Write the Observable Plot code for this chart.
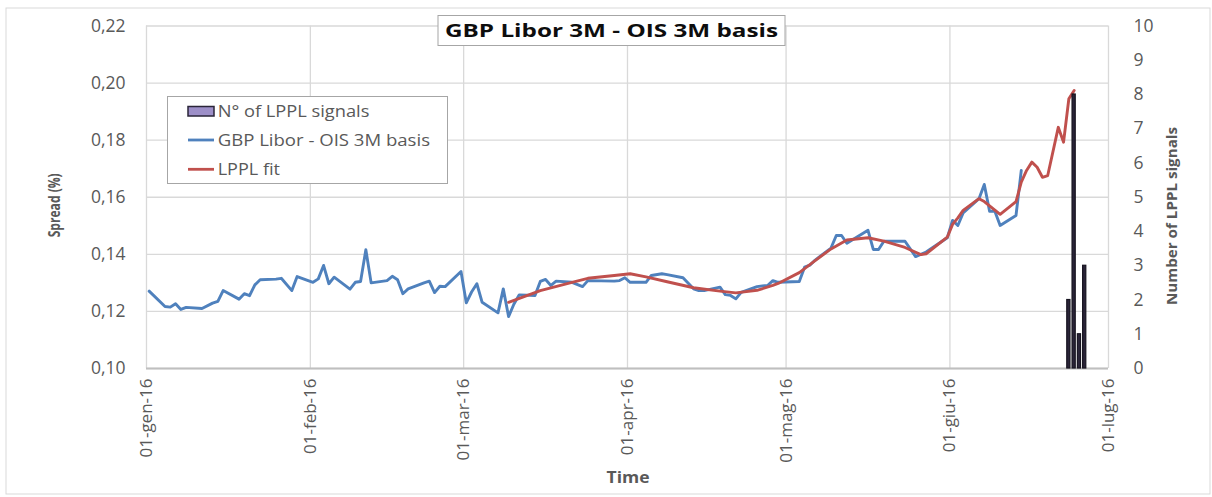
<!DOCTYPE html>
<html>
<head>
<meta charset="utf-8">
<script src="https://cdn.jsdelivr.net/npm/d3@7"></script>
<script src="https://cdn.jsdelivr.net/npm/@observablehq/plot@0.6"></script>
<style>
  html, body { margin: 0; padding: 0; background: #fff; }
  svg { display: block; }
</style>
</head>
<body>
<div id="chart"></div>
<script>
// ---------- DATA ----------
const basisDates = [
  "2016-01-01","2016-01-04","2016-01-05","2016-01-06","2016-01-07","2016-01-08","2016-01-11","2016-01-13","2016-01-14","2016-01-15",
  "2016-01-18","2016-01-19","2016-01-20","2016-01-21","2016-01-22","2016-01-25","2016-01-26","2016-01-28","2016-01-29",
  "2016-02-01","2016-02-02","2016-02-03","2016-02-04","2016-02-05","2016-02-08","2016-02-09","2016-02-10","2016-02-11","2016-02-12",
  "2016-02-15","2016-02-16","2016-02-17","2016-02-18","2016-02-19","2016-02-22","2016-02-23","2016-02-24","2016-02-25","2016-02-26","2016-02-29",
  "2016-03-01","2016-03-02","2016-03-03","2016-03-04","2016-03-07","2016-03-08","2016-03-09","2016-03-10","2016-03-11","2016-03-14",
  "2016-03-15","2016-03-16","2016-03-17","2016-03-18","2016-03-21","2016-03-23","2016-03-24","2016-03-29","2016-03-30","2016-03-31",
  "2016-04-01","2016-04-04","2016-04-05","2016-04-07","2016-04-08","2016-04-11","2016-04-13","2016-04-14","2016-04-15","2016-04-18",
  "2016-04-19","2016-04-20","2016-04-21","2016-04-22","2016-04-25","2016-04-27","2016-04-28","2016-04-29",
  "2016-05-03","2016-05-04","2016-05-05","2016-05-06","2016-05-09","2016-05-10","2016-05-11","2016-05-12","2016-05-16","2016-05-17",
  "2016-05-18","2016-05-19","2016-05-23","2016-05-25","2016-05-27","2016-05-31",
  "2016-06-01","2016-06-02","2016-06-03","2016-06-06","2016-06-07","2016-06-08","2016-06-09","2016-06-10","2016-06-13","2016-06-14"
];
const basisValues = [
  0.1271,0.1217,0.1215,0.1227,0.1207,0.1214,0.1210,0.1229,0.1235,0.1273,
  0.1243,0.1262,0.1255,0.1293,0.1311,0.1313,0.1316,0.1273,0.1322,
  0.1302,0.1314,0.1361,0.1297,0.1320,0.1278,0.1302,0.1305,0.1416,0.1300,
  0.1308,0.1323,0.1311,0.1262,0.1279,0.1300,0.1306,0.1266,0.1288,0.1287,0.1340,
  0.1230,0.1268,0.1297,0.1232,0.1195,0.1279,0.1182,0.1225,0.1258,0.1256,
  0.1305,0.1312,0.1291,0.1306,0.1302,0.1287,0.1308,0.1306,0.1308,0.1318,
  0.1302,0.1302,0.1326,0.1332,0.1329,0.1318,0.1279,0.1273,0.1273,0.1285,
  0.1259,0.1256,0.1244,0.1267,0.1287,0.1291,0.1308,0.1302,
  0.1305,0.1355,0.1362,0.1380,0.1422,0.1466,0.1466,0.1439,0.1484,0.1417,
  0.1417,0.1446,0.1446,0.1392,0.1408,0.1458,
  0.1519,0.1501,0.1545,0.1595,0.1645,0.1551,0.1551,0.1501,0.1536,0.1694
];

const fitDates = [
  "2016-03-09","2016-03-15","2016-03-21","2016-03-24","2016-03-29","2016-04-01","2016-04-04","2016-04-08","2016-04-13","2016-04-18",
  "2016-04-21","2016-04-25","2016-04-28","2016-04-29","2016-05-03","2016-05-06","2016-05-09","2016-05-12","2016-05-16","2016-05-19",
  "2016-05-23","2016-05-26","2016-05-27","2016-05-31","2016-06-01","2016-06-02","2016-06-03","2016-06-06","2016-06-07","2016-06-10",
  "2016-06-13","2016-06-14","2016-06-15","2016-06-16","2016-06-17","2016-06-18","2016-06-19","2016-06-21","2016-06-22","2016-06-23","2016-06-24"
];
const fitValues = [
  0.1232,0.1273,0.1302,0.1316,0.1326,0.1332,0.1321,0.1304,0.1283,0.1271,
  0.1265,0.1274,0.1291,0.1298,0.1336,0.1378,0.1419,0.1450,0.1458,0.1446,
  0.1424,0.1399,0.1402,0.1460,0.1505,0.1528,0.1554,0.1595,0.1585,0.1540,
  0.1585,0.1653,0.1694,0.1723,0.1705,0.1670,0.1676,0.1845,0.1793,0.1945,0.1974
];

const signalDates = ["2016-06-23","2016-06-24","2016-06-25","2016-06-26"];
const signalCounts = [2, 8, 1, 3];

const monthTickDates = ["2016-01-01","2016-02-01","2016-03-01","2016-04-01","2016-05-01","2016-06-01","2016-07-01"];
const monthTickLabels = ["01-gen-16","01-feb-16","01-mar-16","01-apr-16","01-mag-16","01-giu-16","01-lug-16"];
const spreadTicks = [0.10, 0.12, 0.14, 0.16, 0.18, 0.20, 0.22];
const spreadTickLabels = ["0,10","0,12","0,14","0,16","0,18","0,20","0,22"];
const signalTicks = [0,1,2,3,4,5,6,7,8,9,10];

const titleText = "GBP Libor 3M - OIS 3M basis";
const legendLabels = ["N° of LPPL signals", "GBP Libor - OIS 3M basis", "LPPL fit"];

// ---------- BUILD ----------
const DAY = 864e5;
const parse = s => new Date(s + "T00:00:00Z");
const basis = basisDates.map((d, i) => ({date: parse(d), value: basisValues[i]}));
const fit = fitDates.map((d, i) => ({date: parse(d), value: fitValues[i]}));
const signals = signalDates.map((d, i) => ({date: parse(d), n: signalCounts[i]}));
const months = monthTickDates.map(parse);

// secondary axis (0..10) mapped onto the primary spread domain
const yMin = 0.10, yMax = 0.22, sigMax = 10;
const sig2y = n => yMin + n * (yMax - yMin) / sigMax;
const signalTickPos = signalTicks.map(sig2y);

const noon = d => new Date(+d.date + DAY / 2);

const COLOR_TEXT = "#595959";
const GRID = "#d9d9d9";

const chart = Plot.plot({
  width: 1212,
  height: 497,
  marginLeft: 146,
  marginRight: 104,
  marginTop: 25.5,
  marginBottom: 129,
  style: {fontFamily: "'Open Sans', sans-serif", color: COLOR_TEXT, background: "#fff", overflow: "visible"},
  x: {type: "utc", domain: [months[0], months[months.length - 1]]},
  y: {domain: [yMin, yMax]},
  marks: [
    Plot.gridY(spreadTicks, {stroke: GRID, strokeOpacity: 1, strokeWidth: 1.3}),
    Plot.gridX(months, {stroke: GRID, strokeOpacity: 1, strokeWidth: 1.3}),
    Plot.ruleY([yMin], {stroke: "#bfbfbf", strokeWidth: 2}),
    Plot.axisY(spreadTicks, {
      anchor: "left", tickSize: 0, tickPadding: 21, fontSize: 17.5, label: null,
      tickFormat: d => spreadTickLabels[spreadTicks.indexOf(d)]
    }),
    Plot.axisY(signalTickPos, {
      anchor: "right", tickSize: 0, tickPadding: 25, fontSize: 17.5, label: null,
      tickFormat: d => String(signalTicks[signalTickPos.indexOf(d)])
    }),
    Plot.axisX(months, {
      anchor: "bottom", tickSize: 0, tickPadding: 10, tickRotate: -90, fontSize: 17, label: null,
      tickFormat: d => monthTickLabels[months.findIndex(m => +m === +d)]
    }),
    Plot.line(basis, {x: noon, y: "value", stroke: "#4f81bd", strokeWidth: 2.9, strokeLinejoin: "round"}),
    Plot.line(fit, {x: noon, y: "value", stroke: "#c0504d", strokeWidth: 2.9, strokeLinejoin: "round"}),
    Plot.rect(signals, {
      x1: d => new Date(+d.date + DAY * 0.2),
      x2: d => new Date(+d.date + DAY * 0.8),
      y1: yMin,
      y2: d => sig2y(d.n),
      fill: "#2a2438",
      stroke: "#16131f",
      strokeWidth: 1.2
    })
  ]
});

document.getElementById("chart").appendChild(chart);

// ---------- Decorations (frame, title box, legend, axis titles) ----------
const svg = d3.select(chart);

svg.insert("rect", ":first-child")
  .attr("x", 6).attr("y", 8).attr("width", 1204).attr("height", 486)
  .attr("fill", "#fff").attr("stroke", "#d9d9d9").attr("stroke-width", 1);

// title box
svg.append("rect")
  .attr("x", 438).attr("y", 15.5).attr("width", 347).attr("height", 30)
  .attr("fill", "#fff").attr("stroke", "#a6a6a6").attr("stroke-width", 1);
svg.append("text")
  .attr("x", 611.5).attr("y", 31).attr("dy", "0.35em")
  .attr("text-anchor", "middle")
  .attr("font-family", "'Open Sans', sans-serif")
  .attr("font-weight", "bold").attr("font-size", 18)
  .attr("fill", "#0d0d0d")
  .attr("textLength", 333).attr("lengthAdjust", "spacingAndGlyphs")
  .text(titleText);

// legend
const lg = svg.append("g").attr("font-family", "'Open Sans', sans-serif").attr("font-size", 16)
  .attr("fill", COLOR_TEXT).attr("text-anchor", "start");
lg.append("rect")
  .attr("x", 167.5).attr("y", 96.5).attr("width", 280).attr("height", 87)
  .attr("fill", "#fff").attr("stroke", "#a6a6a6").attr("stroke-width", 1);
lg.append("rect")
  .attr("x", 188).attr("y", 106.5).attr("width", 26).attr("height", 9.5)
  .attr("fill", "#9d8fc8").attr("stroke", "#2a2438").attr("stroke-width", 1.5);
lg.append("line").attr("x1", 188).attr("x2", 214).attr("y1", 140).attr("y2", 140)
  .attr("stroke", "#4f81bd").attr("stroke-width", 2.8);
lg.append("line").attr("x1", 188).attr("x2", 214).attr("y1", 169.3).attr("y2", 169.3)
  .attr("stroke", "#c0504d").attr("stroke-width", 2.8);
const legendY = [111, 140, 169.3];
const legendW = [151.7, 212.3, 62.3];
legendLabels.forEach((t, i) => {
  lg.append("text").attr("x", 217.7).attr("y", legendY[i]).attr("dy", "0.35em")
    .attr("text-anchor", "start")
    .attr("textLength", legendW[i]).attr("lengthAdjust", "spacingAndGlyphs")
    .text(t);
});

// axis titles
const at = svg.append("g").attr("font-family", "'Open Sans', sans-serif").attr("font-weight", "bold")
  .attr("fill", COLOR_TEXT).attr("text-anchor", "middle");
at.append("text").attr("transform", "translate(55,205.3) rotate(-90)").attr("dy", "0.35em")
  .attr("font-size", 15.5)
  .attr("textLength", 64).attr("lengthAdjust", "spacingAndGlyphs").text("Spread (%)");
at.append("text").attr("transform", "translate(1171.7,216) rotate(-90)").attr("dy", "0.35em")
  .attr("font-size", 15)
  .attr("textLength", 178).attr("lengthAdjust", "spacingAndGlyphs").text("Number of LPPL signals");
at.append("text").attr("x", 628).attr("y", 477).attr("dy", "0.35em")
  .attr("font-size", 16.5).attr("textLength", 43).attr("lengthAdjust", "spacingAndGlyphs").text("Time");
</script>
</body>
</html>
